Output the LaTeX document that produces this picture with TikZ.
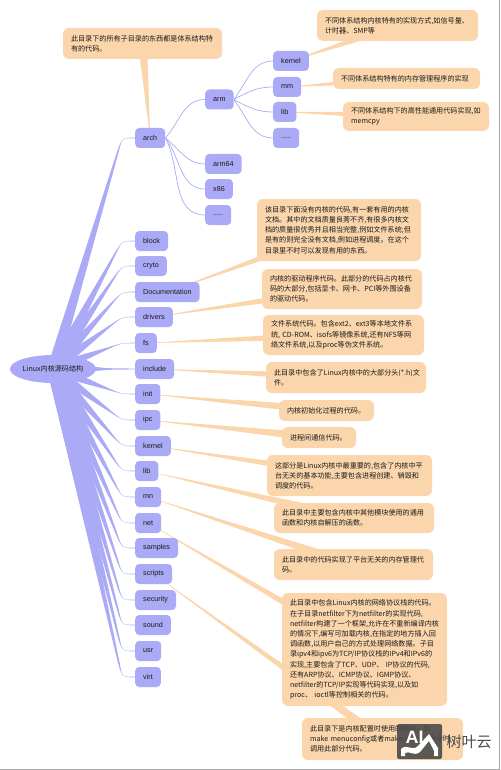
\documentclass[tikz,border=0pt]{standalone}
\usepackage{fontspec}
\setmainfont{Noto Sans CJK SC}
\newfontfamily\labelfont{Liberation Sans}
\usetikzlibrary{shapes.geometric,calc,backgrounds}
\definecolor{nodeblue}{HTML}{AAAAF6}
\definecolor{notetan}{HTML}{FBD6AC}
\definecolor{inkdark}{HTML}{1A1A1A}
\definecolor{markgray}{HTML}{4A4A4A}
\newcommand{\dirdots}{.\kern0pt.\kern0pt.\kern0pt.\kern0pt.}
\tikzset{
  dirnode/.style={fill=nodeblue, rounded corners=4pt, anchor=west, inner xsep=8pt, inner ysep=0pt,
    minimum height=20pt, text=inkdark, font=\labelfont\fontsize{7.2}{9}\selectfont},
  notebox/.style 2 args={fill=notetan, rounded corners=6pt, inner xsep=8pt, inner ysep=0pt,
    text width=#1pt-16pt, minimum height=#2pt, align=left, text=inkdark,
    font=\fontsize{7.1}{10.2}\selectfont},
  branch/.style={draw=nodeblue, line width=0.7pt},
}
\begin{document}
\begin{tikzpicture}[x=1pt, y=-1pt]
  \useasboundingbox (0,0) rectangle (500,770);

  % Root and first level
  \node [ellipse, fill=nodeblue, minimum width=86pt, minimum height=28pt, inner sep=0pt, text=inkdark,
    font=\fontsize{7.1}{9}\selectfont] (root) at (53,369) {Linux内核源码结构};
  \foreach \n/\t/\y in {arch/arch/138, block/block/241, cryto/cryto/266, doc/Documentation/292,
      drivers/drivers/317, fs/fs/343, include/include/369, init/init/394, ipc/ipc/420,
      kernel/kernel/446, lib/lib/471, mn/mn/497, net/net/523, samples/samples/548,
      scripts/scripts/574, security/security/600, sound/sound/625, usr/usr/651, virt/virt/677} {
    \node [dirnode] (\n) at (135,\y) {\t};
  }

  % Second and third level
  \foreach \n/\t/\x/\y in {arm/arm/205/99.5, armSix/arm64/205/164, xSix/x86/205/189, archDots/\dirdots/205/215,
      armKernel/kernel/273/61, armMm/mm/273/87, armLib/lib/273/112, armDots/\dirdots/273/138} {
    \node [dirnode] (\n) at (\x,\y) {\t};
  }

  % Notes, each one placed by its centre
  \node [notebox={159}{31}] (noteArch) at (142.5,43.5) {此目录下的所有子目录的东西都是体系结构特\\有的代码。};
  \node [notebox={161}{31}] (noteArmKernel) at (397.5,25.5) {不同体系结构内核特有的实现方式,如信号量、\\计时器、SMP等};
  \node [notebox={147}{21}] (noteArmMm) at (406.5,78.5) {不同体系结构特有的内存管理程序的实现};
  \node [notebox={146}{29}] (noteArmLib) at (416,116.5) {不同体系结构下的高性能通用代码实现,如\\memcpy};
  \node [notebox={164}{62}] (noteDoc) at (339,230) {该目录下面没有内核的代码,有一套有用的内核\\文档。其中的文档质量良莠不齐,有很多内核文\\档的质量很优秀并且相当完整,例如文件系统;但\\是有的则完全没有文档,例如进程调度。在这个\\目录里不时可以发现有用的东西。};
  \node [notebox={160}{40}] (noteDrivers) at (342,289) {内核的驱动程序代码。此部分的代码占内核代\\码的大部分,包括显卡、网卡、PCI等外围设备\\的驱动代码。};
  \node [notebox={161}{40}] (noteFs) at (343.5,335) {文件系统代码。包含ext2、ext3等本地文件系\\统, CD-ROM、isofs等镜像系统,还有NFS等网\\络文件系统,以及proc等伪文件系统。};
  \node [notebox={160}{31}] (noteInclude) at (346,377.5) {此目录中包含了Linux内核中的大部分头(*.h)文\\件。};
  \node [notebox={95}{21}] (noteInit) at (326.5,410.5) {内核初始化过程的代码。};
  \node [notebox={74}{21}] (noteIpc) at (319,437.5) {进程间通信代码。};
  \node [notebox={165}{41}] (noteKernel) at (349.5,475.5) {这部分是Linux内核中最重要的,包含了内核中平\\台无关的基本功能,主要包含进程创建、销毁和\\调度的代码。};
  \node [notebox={160}{30}] (noteLib) at (354,518) {此目录中主要包含内核中其他模块使用的通用\\函数和内核自解压的函数。};
  \node [notebox={159}{31}] (noteMn) at (353.5,564.5) {此目录中的代码实现了平台无关的内存管理代\\码。};
  \node [notebox={165}{113}] (noteNet) at (364.5,649.5) {此目录中包含Linux内核的网络协议栈的代码。\\在子目录netfilter下为netfilter的实现代码,\\netfilter构建了一个框架,允许在不重新编译内核\\的情况下,编写可加载内核,在指定的地方插入回\\调函数,以用户自己的方式处理网络数据。子目\\录ipv4和ipv6为TCP/IP协议栈的IPv4和IPv6的\\实现,主要包含了TCP、UDP、 IP协议的代码,\\还有ARP协议、ICMP协议、IGMP协议、\\netfilter的TCP/IP实现等代码实现,以及如\\proc、 ioctl等控制相关的代码。};
  \node [notebox={161}{42}] (noteScripts) at (382.5,739) {此目录下是内核配置时使用的脚本。如\\make menuconfig或者make xconfig命令时\\调用此部分代码。};

  % Watermark
  \node [fill=markgray, fill opacity=0.9, rounded corners=2pt, minimum width=45pt, minimum height=35pt, inner sep=0pt] (markBox) at (419.5,741.5) {};
  \fill [white] (401,756) -- (401,749) .. controls (407,743) and (412,752) .. (418,746) -- (429,734) -- (438,748) -- (438,756) -- (434,756)
    -- (434,751) -- (429,741) -- (420,752) .. controls (414,757) and (409,750) .. (405,753) -- (405,756) -- cycle;
  \node [text=white, font=\labelfont\bfseries\fontsize{18}{18}\selectfont, inner sep=0pt] (markAi) at (414.5,737) {AI};
  \node [text=markgray, font=\fontsize{15}{15}\selectfont, inner sep=0pt, anchor=west] (markName) at (446.5,742) {树叶云};

  \begin{pgfonlayer}{background}
    % Wedges from a directory to its note
    \foreach \a/\b in {arch/noteArch, armKernel/noteArmKernel, armMm/noteArmMm, armLib/noteArmLib,
        doc/noteDoc, drivers/noteDrivers, fs/noteFs, include/noteInclude, init/noteInit, ipc/noteIpc,
        kernel/noteKernel, lib/noteLib, mn/noteMn, net/noteNet, scripts/noteScripts} {
      \fill [notetan] (\a.center) -- ($(\b.center)!4.5pt!90:(\a.center)$) -- ($(\b.center)!4.5pt!-90:(\a.center)$) -- cycle;
    }

    % Tapered trunks from the root, straight and then rounded into the node
    \foreach \n in {arch, block, cryto, doc, drivers, fs, include, init, ipc, kernel, lib, mn, net,
        samples, scripts, security, sound, usr, virt} {
      \coordinate (k) at ($(\n.west)+(-13,0)$);
      \coordinate (p) at ($(k)!14pt!(root.center)$);
      \fill [nodeblue] ($(root.center)!6pt!90:(k)$) -- ($(p)!0.8pt!-90:(root.center)$)
        .. controls (k) .. ($(\n.west)+(0,-0.4)$) -- ($(\n.west)+(0,0.4)$)
        .. controls (k) .. ($(p)!0.8pt!90:(root.center)$) -- ($(root.center)!6pt!-90:(k)$) -- cycle;
    }

    % Thin branches
    \foreach \a/\b/\o in {arch/arm/48, arch/armSix/-38, arch/xSix/-52, arch/archDots/-62,
        arm/armKernel/52, arm/armMm/28, arm/armLib/-28, arm/armDots/-52} {
      \draw [branch] (\a.east) to [out=\o, in=180] (\b.west);
    }
  \end{pgfonlayer}

  % Edge lines of the screenshot
  \fill [gray!70] (499,0) rectangle (500,770);
  \fill [gray!70] (0,769) rectangle (500,770);
\end{tikzpicture}
\end{document}
